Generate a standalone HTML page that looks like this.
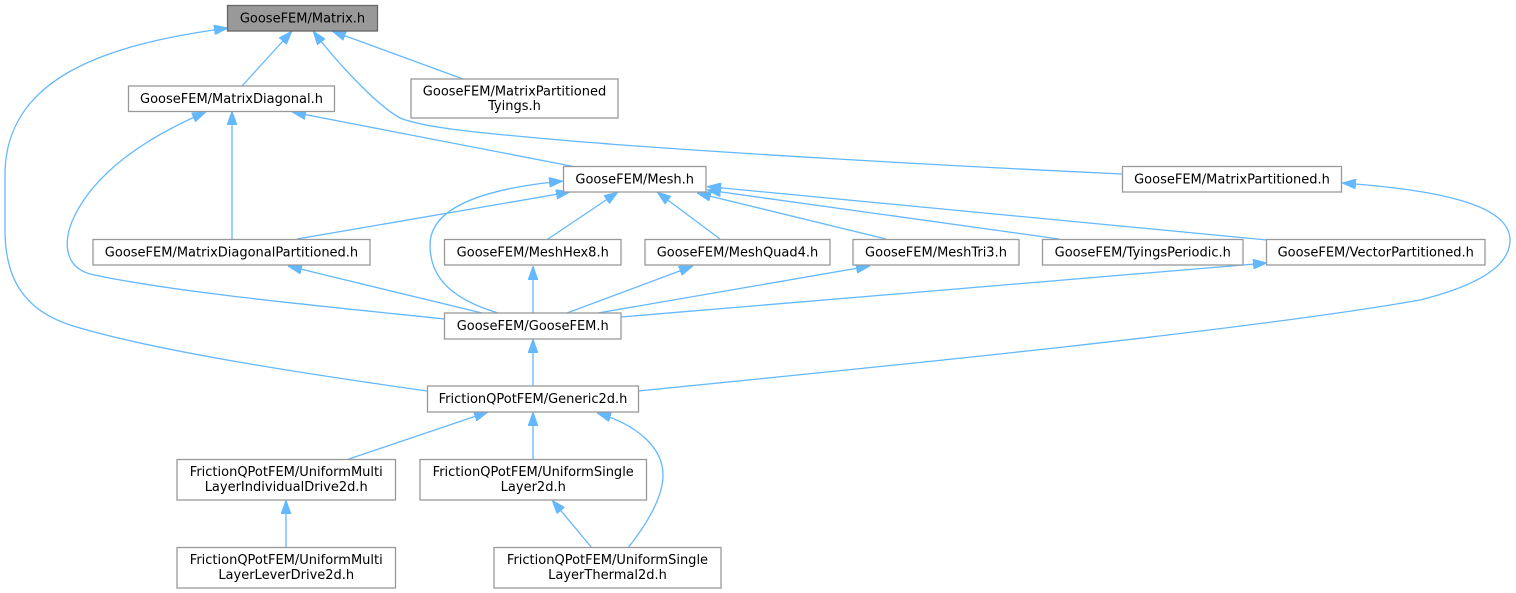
<!DOCTYPE html>
<html>
<head>
<meta charset="utf-8">
<style>
  html,body{margin:0;padding:0;background:#ffffff;}
  svg{display:block;}
  text{font-family:"DejaVu Sans","Liberation Sans",sans-serif;font-size:13px;fill:#000;text-anchor:middle;}
  .e{fill:none;stroke:#63b8ff;stroke-width:1.3;}
  .n{fill:#ffffff;stroke:#999999;stroke-width:1.3;}
  .m{fill:#999999;stroke:#666666;stroke-width:1.3;}
</style>
</head>
<body>
<svg width="1516" height="593" viewBox="0 0 1516 593" xmlns="http://www.w3.org/2000/svg">
  <defs>
    <marker id="a" markerUnits="userSpaceOnUse" markerWidth="14" markerHeight="10" refX="14" refY="5" orient="auto" viewBox="0 0 14 10">
      <path d="M0,0 L14,5 L0,10 Z" fill="#63b8ff" stroke="#63b8ff" stroke-width="0.8"/>
    </marker>
  </defs>

  <!-- edges -->
  <path class="e" marker-end="url(#a)" d="M242,86 L292,31"/>
  <path class="e" marker-end="url(#a)" d="M463,79 L332,31"/>
  <path class="e" marker-end="url(#a)" d="M1122,174 C950,166 700,152 560,140 C480,133 425,128 400,118 C375,104 335,60 313,31"/>
  <path class="e" marker-end="url(#a)" d="M427,391 C300,373 150,350 70,325 C25,310 5,280 5,230 L5,175 C5,80 100,45 228,28"/>
  <path class="e" marker-end="url(#a)" d="M232,239 L232,111"/>
  <path class="e" marker-end="url(#a)" d="M445,319 C330,307 170,292 90,274 C60,265 65,235 75,215 C95,175 140,140 206,112"/>
  <path class="e" marker-end="url(#a)" d="M576,167 L292,112"/>
  <path class="e" marker-end="url(#a)" d="M297,239 L570,192"/>
  <path class="e" marker-end="url(#a)" d="M548,239 L618,192"/>
  <path class="e" marker-end="url(#a)" d="M720,239 L657,192"/>
  <path class="e" marker-end="url(#a)" d="M886,239 L697,193"/>
  <path class="e" marker-end="url(#a)" d="M1059,239 L707,190"/>
  <path class="e" marker-end="url(#a)" d="M1267,240 L707,186.5"/>
  <path class="e" marker-end="url(#a)" d="M498,313 C455,300 430,280 430,245 C430,205 490,188 563,181"/>
  <path class="e" marker-end="url(#a)" d="M482,313 L288,266"/>
  <path class="e" marker-end="url(#a)" d="M533,313 L533,266"/>
  <path class="e" marker-end="url(#a)" d="M567,313 L693,266"/>
  <path class="e" marker-end="url(#a)" d="M598,313 L870,266"/>
  <path class="e" marker-end="url(#a)" d="M621,317 L1267,263"/>
  <path class="e" marker-end="url(#a)" d="M533,386 L533,339"/>
  <path class="e" marker-end="url(#a)" d="M638,391 C900,365 1250,330 1420,300 C1480,285 1510,265 1510,240 C1510,205 1440,190 1342,183"/>
  <path class="e" marker-end="url(#a)" d="M346,460 L488,412"/>
  <path class="e" marker-end="url(#a)" d="M533,459 L533,412"/>
  <path class="e" marker-end="url(#a)" d="M628,548 C650,520 663,495 663,475 C663,448 638,425 597,413"/>
  <path class="e" marker-end="url(#a)" d="M286,548 L286,500"/>
  <path class="e" marker-end="url(#a)" d="M592,548 L552,500"/>

  <!-- nodes -->
  <rect class="m" x="227.5" y="5.5" width="150" height="25.5"/>
  <text x="302.5" y="22.5">GooseFEM/Matrix.h</text>

  <rect class="n" x="128.5" y="86" width="206" height="25.5"/>
  <text x="231.5" y="103">GooseFEM/MatrixDiagonal.h</text>

  <rect class="n" x="411" y="79" width="207" height="39"/>
  <text x="514.5" y="95.7">GooseFEM/MatrixPartitioned</text>
  <text x="514.5" y="110">Tyings.h</text>

  <rect class="n" x="563.5" y="166.5" width="142.5" height="25.5"/>
  <text x="634.7" y="183.5">GooseFEM/Mesh.h</text>

  <rect class="n" x="1122.5" y="166.5" width="219" height="25.5"/>
  <text x="1232" y="183.5">GooseFEM/MatrixPartitioned.h</text>

  <rect class="n" x="93" y="239.5" width="277" height="25.5"/>
  <text x="231.5" y="256.5">GooseFEM/MatrixDiagonalPartitioned.h</text>

  <rect class="n" x="444.5" y="239.5" width="176.5" height="25.5"/>
  <text x="532.75" y="256.5">GooseFEM/MeshHex8.h</text>

  <rect class="n" x="645" y="239.5" width="185" height="25.5"/>
  <text x="737.5" y="256.5">GooseFEM/MeshQuad4.h</text>

  <rect class="n" x="853" y="239.5" width="166" height="25.5"/>
  <text x="936" y="256.5">GooseFEM/MeshTri3.h</text>

  <rect class="n" x="1042.5" y="239.5" width="200.5" height="25.5"/>
  <text x="1142.75" y="256.5">GooseFEM/TyingsPeriodic.h</text>

  <rect class="n" x="1266.5" y="239.5" width="218.5" height="25.5"/>
  <text x="1375.75" y="256.5">GooseFEM/VectorPartitioned.h</text>

  <rect class="n" x="444.5" y="313" width="176.5" height="26"/>
  <text x="532.75" y="330">GooseFEM/GooseFEM.h</text>

  <rect class="n" x="427.5" y="386" width="211" height="26"/>
  <text x="533" y="403">FrictionQPotFEM/Generic2d.h</text>

  <rect class="n" x="177" y="459.5" width="218.5" height="40.5"/>
  <text x="286.25" y="476.2">FrictionQPotFEM/UniformMulti</text>
  <text x="286.25" y="491">LayerIndividualDrive2d.h</text>

  <rect class="n" x="420" y="459.5" width="226.5" height="40.5"/>
  <text x="533.25" y="476.2">FrictionQPotFEM/UniformSingle</text>
  <text x="533.25" y="491">Layer2d.h</text>

  <rect class="n" x="177" y="547.5" width="218.5" height="40.5"/>
  <text x="286.25" y="564.2">FrictionQPotFEM/UniformMulti</text>
  <text x="286.25" y="579">LayerLeverDrive2d.h</text>

  <rect class="n" x="494" y="547.5" width="227" height="40.5"/>
  <text x="607.5" y="564.2">FrictionQPotFEM/UniformSingle</text>
  <text x="607.5" y="579">LayerThermal2d.h</text>
</svg>
</body>
</html>
